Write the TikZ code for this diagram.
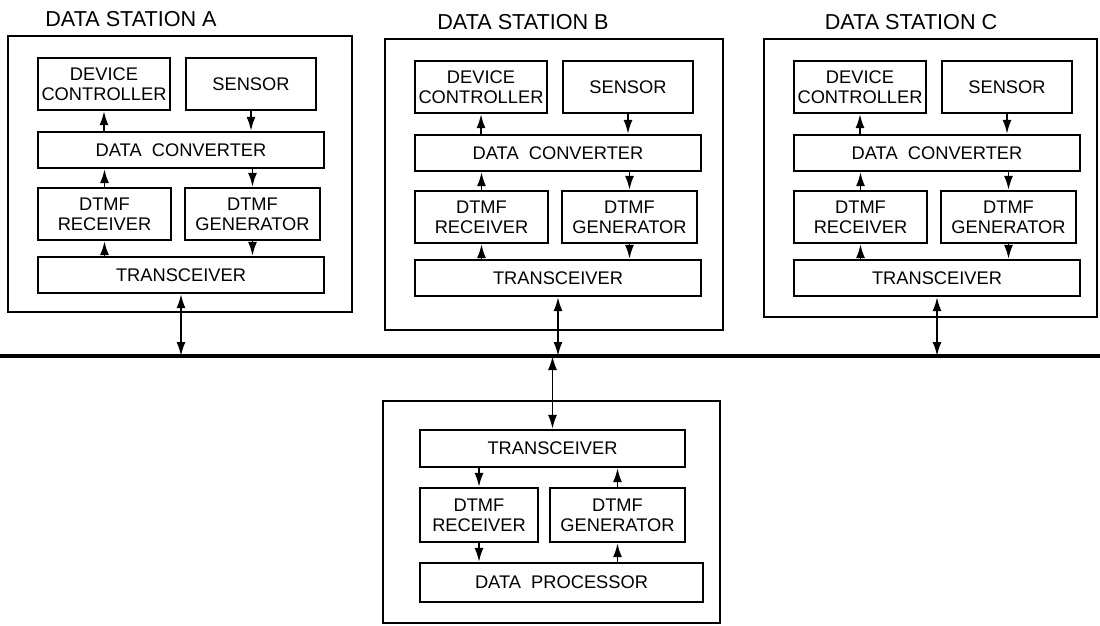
\documentclass[tikz,border=0pt]{standalone}
\usepackage{fontspec}
\setmainfont{Liberation Sans}
\usetikzlibrary{arrows.meta}

\tikzset{
  unit/.style={draw, line width=1.3pt, inner sep=0pt, align=center,
               font=\fontsize{10.4}{11.4}\selectfont},
  frame/.style={draw, line width=1.3pt},
  title/.style={font=\fontsize{12.3}{14}\selectfont},
  bus/.style={line width=2.2pt},
  link/.style={line width=1pt, -{Latex[length=2.8mm,width=1.8mm]}},
  duplex/.style={line width=1pt,
                 {Latex[length=2.8mm,width=1.8mm]}-{Latex[length=2.8mm,width=1.8mm]}},
}
% box from its corners (x1,y1) (x2,y2) in picture units
\newcommand\unitbox[6]{%
  \node[unit, minimum width=(#4-#2)*0.2mm, minimum height=(#5-#3)*0.2mm]
    (#1) at ({(#2+#4)/2},{(#3+#5)/2}) {#6};}

\begin{document}
\begin{tikzpicture}[x=0.2mm, y=-0.2mm]
 \useasboundingbox (0,0) rectangle (1100,626);

 % the three data stations
 \foreach \s/\ox/\oy/\w/\h/\tx in {A/8/36/344/276/123,
                                   B/385/39/338/291/138,
                                   C/764/39/333/278/147}{
   \begin{scope}[shift={(\ox,\oy)}]
     \draw[frame] (0,0) rectangle (\w,\h);
     \node[title] (\s-title) at (\tx,-17) {DATA STATION \s};
     \unitbox{\s-dev}{30}{22}{162}{74}{DEVICE\\CONTROLLER}
     \unitbox{\s-sen}{178}{22}{308}{74}{SENSOR}
     \unitbox{\s-dc}{30}{96}{316}{132}{DATA\ \ CONVERTER}
     \unitbox{\s-rx}{30}{152}{163}{204}{DTMF\\RECEIVER}
     \unitbox{\s-gen}{177}{152}{312}{204}{DTMF\\GENERATOR}
     \unitbox{\s-tr}{30}{221}{316}{257}{TRANSCEIVER}
   \end{scope}
   \draw[link] (\s-tr.north -| \s-rx.south) -- (\s-rx.south);
   \draw[link] (\s-rx.north) -- (\s-rx.north |- \s-dc.south);
   \draw[link] (\s-dc.north -| \s-dev.south) -- (\s-dev.south);
   \draw[link] (\s-sen.south) -- (\s-sen.south |- \s-dc.north);
   \draw[link] (\s-dc.south -| \s-gen.north) -- (\s-gen.north);
   \draw[link] (\s-gen.south) -- (\s-gen.south |- \s-tr.north);
 }

 % common line
 \coordinate (busW) at (0,356);
 \coordinate (busE) at (1100,356);
 \draw[bus] (busW) -- (busE);
 \foreach \s in {A,B,C}
   \draw[duplex] (\s-tr.south) -- (\s-tr.south |- busW);

 % data processor station
 \draw[frame] (383,401) rectangle (720,623);
 \unitbox{P-tr}{420}{430}{685}{467}{TRANSCEIVER}
 \unitbox{P-rx}{420}{488}{538}{542}{DTMF\\RECEIVER}
 \unitbox{P-gen}{550}{488}{685}{542}{DTMF\\GENERATOR}
 \unitbox{P-dp}{420}{563}{703}{602}{DATA\ \ PROCESSOR}
 \draw[duplex] (busW -| P-tr.north) -- (P-tr.north);
 \draw[link] (P-rx.north |- P-tr.south) -- (P-rx.north);
 \draw[link] (P-rx.south) -- (P-rx.south |- P-dp.north);
 \draw[link] (P-gen.south |- P-dp.north) -- (P-gen.south);
 \draw[link] (P-gen.north) -- (P-gen.north |- P-tr.south);
\end{tikzpicture}
\end{document}
